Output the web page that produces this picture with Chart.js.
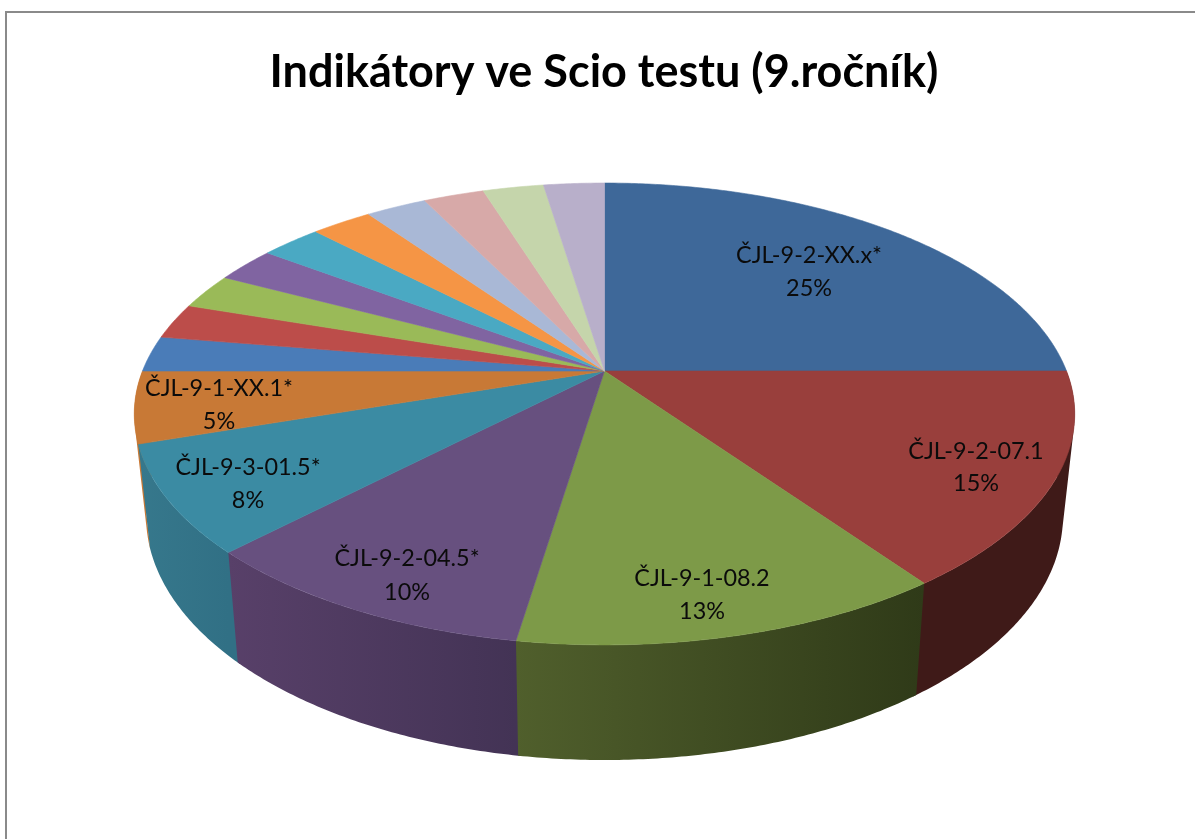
<!DOCTYPE html>
<html><head><meta charset="utf-8">
<style>
html,body{margin:0;padding:0;background:#fff;width:1195px;height:839px;overflow:hidden}
#wrap{position:absolute;left:0;top:0;width:1195px;height:839px}
#frame{position:absolute;left:4.5px;top:11px;right:0;bottom:0;border-top:2.4px solid #8a8a8a;border-left:2.2px solid #8a8a8a}
canvas{position:absolute;left:0;top:0;filter:blur(0.45px)}
</style>
<script src="https://cdn.jsdelivr.net/npm/chart.js@4/dist/chart.umd.min.js"></script>
</head><body>
<div id="wrap"><div id="frame"></div><canvas id="c" width="1195" height="839"></canvas></div>
<script>
const titleText = 'Indikátory ve Scio testu (9.ročník)';
const categories = ['ČJL-9-2-XX.x*','ČJL-9-2-07.1','ČJL-9-1-08.2','ČJL-9-2-04.5*','ČJL-9-3-01.5*','ČJL-9-1-XX.1*','','','','','','','','','',''];
const values = [25,15,12.5,10,7.5,5,2.5,2.5,2.5,2.5,2.5,2.5,2.5,2.5,2.5,2.5];
const topColors = ['#3E6899','#993F3C','#7D9A48','#67507F','#3B8BA3','#C87936','#4A7CB8','#BC4D4A','#9ABA58','#8064A1','#4AA9C3','#F59545','#A9B8D6','#D7A9A8','#C5D5AB','#B8AFCA'];
const wallRight = {1:'#3F1A18',2:'#2F3A18',3:'#433355',4:'#317085',5:'#C87936'};
const wallLeft  = {1:'#3F1A18',2:'#505F2C',3:'#584069',4:'#36788C',5:'#C87936'};
// centre of each two-line text label: [x, first line y, second line y]
const labelAt = [[809,255,288],[976,451,483],[702,578,611],[407,558,592],[248,467,500],[219,388,421]];

// perspective view of the flat pie
const V = {cx:604.5, cy:371, a:462, b:153.9, k:-0.1861, depthX:0.975, depthYScale:1.056, depthYOff:79};
function faceP(ang){
  const u=Math.cos(ang), v=Math.sin(ang), w=1+V.k*v;
  return [V.cx+V.a*u/w, (V.cy+V.b*v)/w];
}
function baseP(ang){
  const p=faceP(ang);
  return [V.cx+(p[0]-V.cx)*V.depthX, p[1]*V.depthYScale+V.depthYOff];
}
function signedArea(q){
  let s=0;
  q.forEach((p,i)=>{const n=q[(i+1)%q.length];s+=p[0]*n[1]-n[0]*p[1];});
  return s;
}
const pie3d = {
  id:'pie3d',
  beforeDatasetDraw(chart){
    const ctx=chart.ctx, arcs=chart.getDatasetMeta(0).data, STEP=Math.PI/360, LAP=0.008;
    // walls, far ones first; each is one path of same-wound strips, so it has no seams
    [5,4,3,1,2].forEach(i=>{
      const s=arcs[i].startAngle, e=arcs[i].endAngle;
      const from=i>=3?s-LAP:s, to=i===1?e+LAP:e;
      const x0=Math.min(faceP(s)[0],faceP(e)[0]), x1=Math.max(faceP(s)[0],faceP(e)[0]);
      const g=ctx.createLinearGradient(x0,0,x1,0);
      g.addColorStop(0,wallLeft[i]);g.addColorStop(1,wallRight[i]);
      ctx.fillStyle=g;
      ctx.beginPath();
      for(let a=from;a<to;a+=STEP){
        const b=Math.min(a+STEP,to);
        const quad=[faceP(a),faceP(b),baseP(b),baseP(a)];
        if(signedArea(quad)<0) quad.reverse();
        quad.forEach((p,n)=>n?ctx.lineTo(p[0],p[1]):ctx.moveTo(p[0],p[1]));
        ctx.closePath();
      }
      ctx.fill();
    });
    // top faces
    arcs.forEach((arc,i)=>{
      ctx.beginPath();
      ctx.moveTo(V.cx,V.cy);
      for(let a=arc.startAngle;a<arc.endAngle;a+=STEP){const p=faceP(a);ctx.lineTo(p[0],p[1]);}
      const q=faceP(arc.endAngle);ctx.lineTo(q[0],q[1]);
      ctx.closePath();
      ctx.fillStyle=topColors[i];ctx.strokeStyle=topColors[i];ctx.lineWidth=0.6;
      ctx.fill();ctx.stroke();
    });
    return false;
  },
  afterDatasetsDraw(chart){
    const ctx=chart.ctx, total=values.reduce((a,b)=>a+b,0);
    ctx.save();
    ctx.fillStyle='#0b0b0b';ctx.textAlign='center';ctx.textBaseline='middle';
    ctx.font='23.4px Lato';
    labelAt.forEach((l,i)=>{
      ctx.fillText(categories[i],l[0],l[1]);
      ctx.fillText(Math.round(values[i]/total*100)+'%',l[0],l[2]);
    });
    ctx.restore();
  }
};
new Chart(document.getElementById('c'),{
  type:'pie',
  data:{labels:categories,datasets:[{data:values,backgroundColor:topColors,borderWidth:0}]},
  plugins:[pie3d],
  options:{
    responsive:false,animation:false,
    layout:{padding:{top:45,left:13}},
    plugins:{
      legend:{display:false},tooltip:{enabled:false},
      title:{display:true,text:titleText,color:'#000',font:{family:'Lato',size:45,weight:'bold'},padding:{top:0,bottom:10}}
    }
  }
});
</script>
</body></html>
